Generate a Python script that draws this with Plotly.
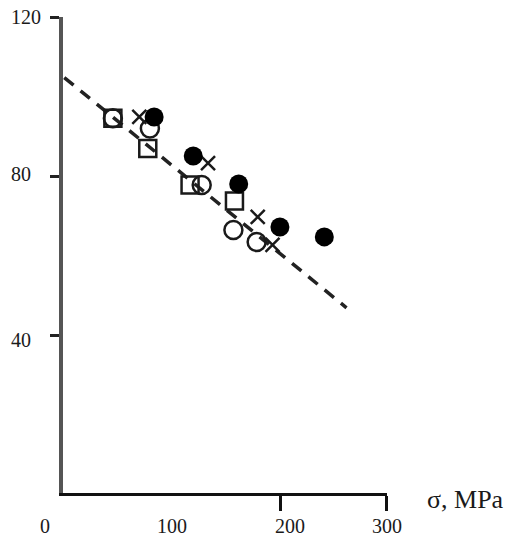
import plotly.graph_objects as go

# Stress sigma (MPa) versus property value, four specimen series
filled_x = [80, 117, 160, 199, 241]
filled_y = [94.9, 85.1, 78.1, 67.3, 64.8]

square_x = [41, 74, 114, 156]
square_y = [94.6, 87.0, 77.8, 73.8]

circle_x = [41, 76, 125, 155, 177]
circle_y = [94.6, 92.0, 77.8, 66.5, 63.5]

cross_x = [66, 131, 178, 192]
cross_y = [94.9, 83.3, 69.8, 62.8]

# Linear trend
trend_x = [-5, 262]
trend_y = [104.8, 47.0]

x_tick_vals = [0, 100, 200, 300]
x_tick_text = ["0", "100", "200", "300"]
y_tick_vals = [40, 80, 120]
y_tick_text = ["40", "80", "120"]
x_title = "σ, MPa"

FONT = "Liberation Serif"
INK = "#1a1a1a"

fig = go.Figure()

fig.add_trace(go.Scatter(
    x=trend_x, y=trend_y, mode="lines",
    line=dict(color="#222", width=3.5, dash="12px,9px"),
    hoverinfo="skip", showlegend=False))

fig.add_trace(go.Scatter(
    x=circle_x, y=circle_y, mode="markers",
    marker=dict(symbol="circle-open", size=18, color=INK, line=dict(width=2.5, color=INK)),
    showlegend=False))

fig.add_trace(go.Scatter(
    x=square_x, y=square_y, mode="markers",
    marker=dict(symbol="square-open", size=17, color=INK, line=dict(width=2.5, color=INK)),
    showlegend=False))

fig.add_trace(go.Scatter(
    x=cross_x, y=cross_y, mode="markers",
    marker=dict(symbol="x-thin-open", size=14, color=INK, line=dict(width=2.5, color=INK)),
    showlegend=False))

fig.add_trace(go.Scatter(
    x=filled_x, y=filled_y, mode="markers",
    marker=dict(symbol="circle", size=19, color="#000", line=dict(width=0)),
    showlegend=False))

# Tick labels placed as text, with the small offsets of the printed scale
x_label_shift = [-25, -3, 9, 0]
for v, t, dx in zip(x_tick_vals, x_tick_text, x_label_shift):
    fig.add_annotation(x=v, xref="x", y=0, yref="paper", text=t, showarrow=False,
                       xanchor="center", yanchor="middle", xshift=dx, yshift=-33,
                       font=dict(family=FONT, size=20, color=INK))

y_label_shift = [-4, 2, 0]
for v, t, dy in zip(y_tick_vals, y_tick_text, y_label_shift):
    fig.add_annotation(x=0, xref="paper", y=v, yref="y", text=t, showarrow=False,
                       xanchor="left", yanchor="middle", xshift=-54, yshift=dy,
                       font=dict(family=FONT, size=20, color=INK))

fig.add_annotation(x=1, xref="paper", y=0, yref="paper", text=x_title, showarrow=False,
                   xanchor="left", yanchor="middle", xshift=38, yshift=-6,
                   font=dict(family=FONT, size=26, color=INK))

fig.update_layout(
    width=513, height=539,
    margin=dict(l=63, r=126, t=17, b=46),
    paper_bgcolor="white", plot_bgcolor="white",
    xaxis=dict(range=[-6.2, 300.3], showgrid=False, zeroline=False,
               showline=True, linecolor="#111", linewidth=3,
               tickmode="array", tickvals=[200, 300], ticks="outside",
               ticklen=15, tickwidth=2.5, tickcolor="#111", showticklabels=False),
    yaxis=dict(range=[0.5, 120], showgrid=False, zeroline=False,
               showline=True, linecolor="#555", linewidth=4,
               tickmode="array", tickvals=y_tick_vals, ticks="outside",
               ticklen=9, tickwidth=2.5, tickcolor="#222", showticklabels=False),
)

fig.write_html("out.html")
